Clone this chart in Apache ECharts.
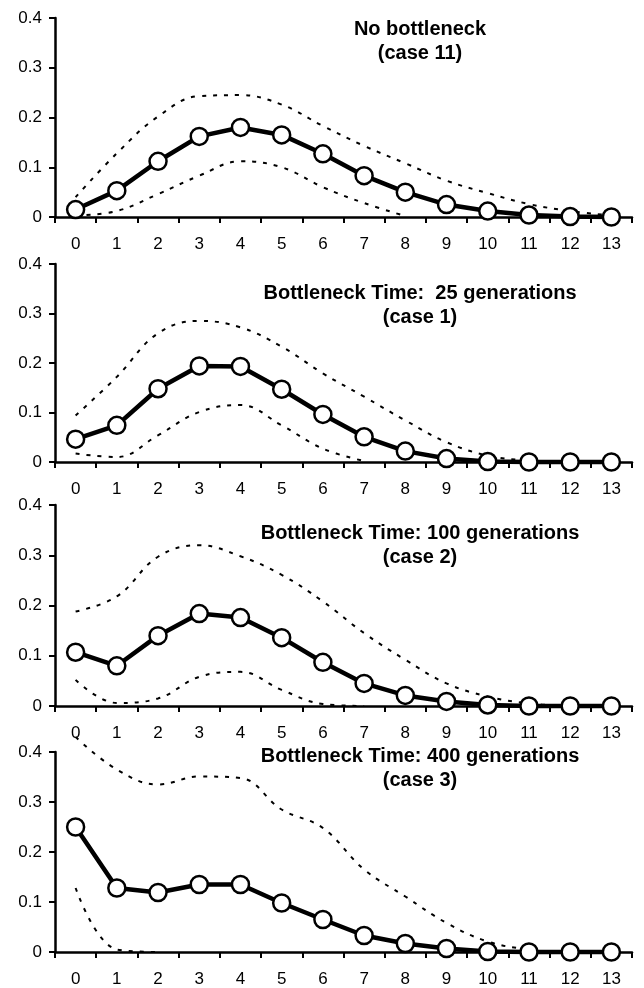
<!DOCTYPE html>
<html>
<head>
<meta charset="utf-8">
<script src="https://cdn.jsdelivr.net/npm/echarts@6/dist/echarts.min.js"></script>
<style>
html,body{margin:0;padding:0;background:#fff;}
#c{width:644px;height:988px;}
</style>
</head>
<body>
<div id="c"></div>
<script>
const categories = ['0','1','2','3','4','5','6','7','8','9','10','11','12','13'];
const yTicks = [0, 0.1, 0.2, 0.3, 0.4];

const titles = [
  'No bottleneck\n(case 11)',
  'Bottleneck Time:  25 generations\n(case 1)',
  'Bottleneck Time: 100 generations\n(case 2)',
  'Bottleneck Time: 400 generations\n(case 3)'
];

// Panel 1: no bottleneck (case 11)
const main1  = [0.015, 0.053, 0.112, 0.162, 0.180, 0.165, 0.127, 0.083, 0.050, 0.025, 0.012, 0.004, 0.001, 0.000];
const upper1 = [0.040, 0.128, 0.202, 0.243, 0.245, 0.226, 0.183, 0.143, 0.108, 0.073, 0.048, 0.026, 0.012, 0.003];
const lower1 = [0.003, 0.012, 0.046, 0.083, 0.112, 0.100, 0.060, 0.028, 0.002, null, null, null, null, null];

// Panel 2: bottleneck 25 generations (case 1)
const main2  = [0.046, 0.074, 0.148, 0.194, 0.193, 0.147, 0.096, 0.051, 0.022, 0.007, 0.001, 0.000, 0.000, 0.000];
const upper2 = [0.094, 0.172, 0.260, 0.285, 0.272, 0.233, 0.179, 0.132, 0.084, 0.040, 0.013, 0.003, 0.000, null];
const lower2 = [0.017, 0.010, 0.054, 0.101, 0.115, 0.074, 0.027, 0.002, null, null, null, null, null, null];

// Panel 3: bottleneck 100 generations (case 2)
const main3  = [0.107, 0.080, 0.140, 0.184, 0.176, 0.136, 0.087, 0.045, 0.021, 0.009, 0.002, 0.000, 0.000, 0.000];
const upper3 = [0.188, 0.218, 0.297, 0.320, 0.298, 0.261, 0.208, 0.145, 0.092, 0.045, 0.019, 0.005, 0.000, null];
const lower3 = [0.052, 0.006, 0.015, 0.058, 0.068, 0.032, 0.004, 0.000, null, null, null, null, null, null];

// Panel 4: bottleneck 400 generations (case 3)
const main4  = [0.250, 0.128, 0.119, 0.135, 0.135, 0.098, 0.065, 0.033, 0.017, 0.007, 0.001, 0.000, 0.000, 0.000];
const upper4 = [0.430, 0.365, 0.335, 0.351, 0.348, 0.285, 0.248, 0.165, 0.111, 0.058, 0.021, 0.005, 0.000, null];
const lower4 = [0.128, 0.005, 0.000, null, null, null, null, null, null, null, null, null, null, null];

const mains = [main1, main2, main3, main4];
const uppers = [upper1, upper2, upper3, upper4];
const lowers = [lower1, lower2, lower3, lower4];

const FONT = "'Liberation Sans', Arial, Helvetica, sans-serif";
const gridTops = [18, 264, 505, 752];
const gridHeights = [199, 198, 201, 200];
const titleTops = [17, 281, 521, 744];

const grids = [], xAxes = [], yAxes = [], series = [], titleArr = [];
for (let i = 0; i < 4; i++) {
  grids.push({left: 55, right: 12, top: gridTops[i], height: gridHeights[i], containLabel: false});
  xAxes.push({
    type: 'category', gridIndex: i, data: categories, boundaryGap: true,
    axisLine: {lineStyle: {color: '#000', width: 2.5}},
    axisTick: {show: true, length: 6, lineStyle: {color: '#000', width: 2}, alignWithLabel: false},
    axisLabel: {color: '#000', fontFamily: FONT, fontSize: 17, margin: 19}
  });
  yAxes.push({
    type: 'value', gridIndex: i, min: yTicks[0], max: yTicks[yTicks.length - 1], interval: 0.1,
    splitLine: {show: false},
    axisLine: {show: true, lineStyle: {color: '#000', width: 2.5}},
    axisTick: {show: true, length: 6, lineStyle: {color: '#000', width: 2}},
    axisLabel: {color: '#000', fontFamily: FONT, fontSize: 17, margin: 13}
  });
  const dashStyle = {color: '#000', width: 2, type: [4, 7]};
  series.push({
    type: 'line', xAxisIndex: i, yAxisIndex: i, data: uppers[i], smooth: 0.4,
    symbol: 'none', lineStyle: dashStyle, z: 2, clip: false, silent: true, animation: false
  });
  series.push({
    type: 'line', xAxisIndex: i, yAxisIndex: i, data: lowers[i], smooth: 0.4,
    symbol: 'none', lineStyle: dashStyle, z: 2, silent: true, animation: false
  });
  series.push({
    type: 'line', xAxisIndex: i, yAxisIndex: i, data: mains[i],
    symbol: 'circle', symbolSize: 17, showAllSymbol: true,
    itemStyle: {color: '#fff', borderColor: '#000', borderWidth: 2.5},
    lineStyle: {color: '#000', width: 4.5}, z: 5, clip: false, animation: false
  });
  titleArr.push({
    text: titles[i], left: 420, top: titleTops[i], textAlign: 'center', padding: 0,
    textStyle: {color: '#000', fontFamily: FONT, fontSize: 20, fontWeight: 'bold', lineHeight: 24}
  });
}

const chart = echarts.init(document.getElementById('c'), null, {renderer: 'canvas'});
chart.setOption({
  backgroundColor: '#fff',
  animation: false,
  title: titleArr,
  grid: grids,
  xAxis: xAxes,
  yAxis: yAxes,
  series: series
});
</script>
</body>
</html>
